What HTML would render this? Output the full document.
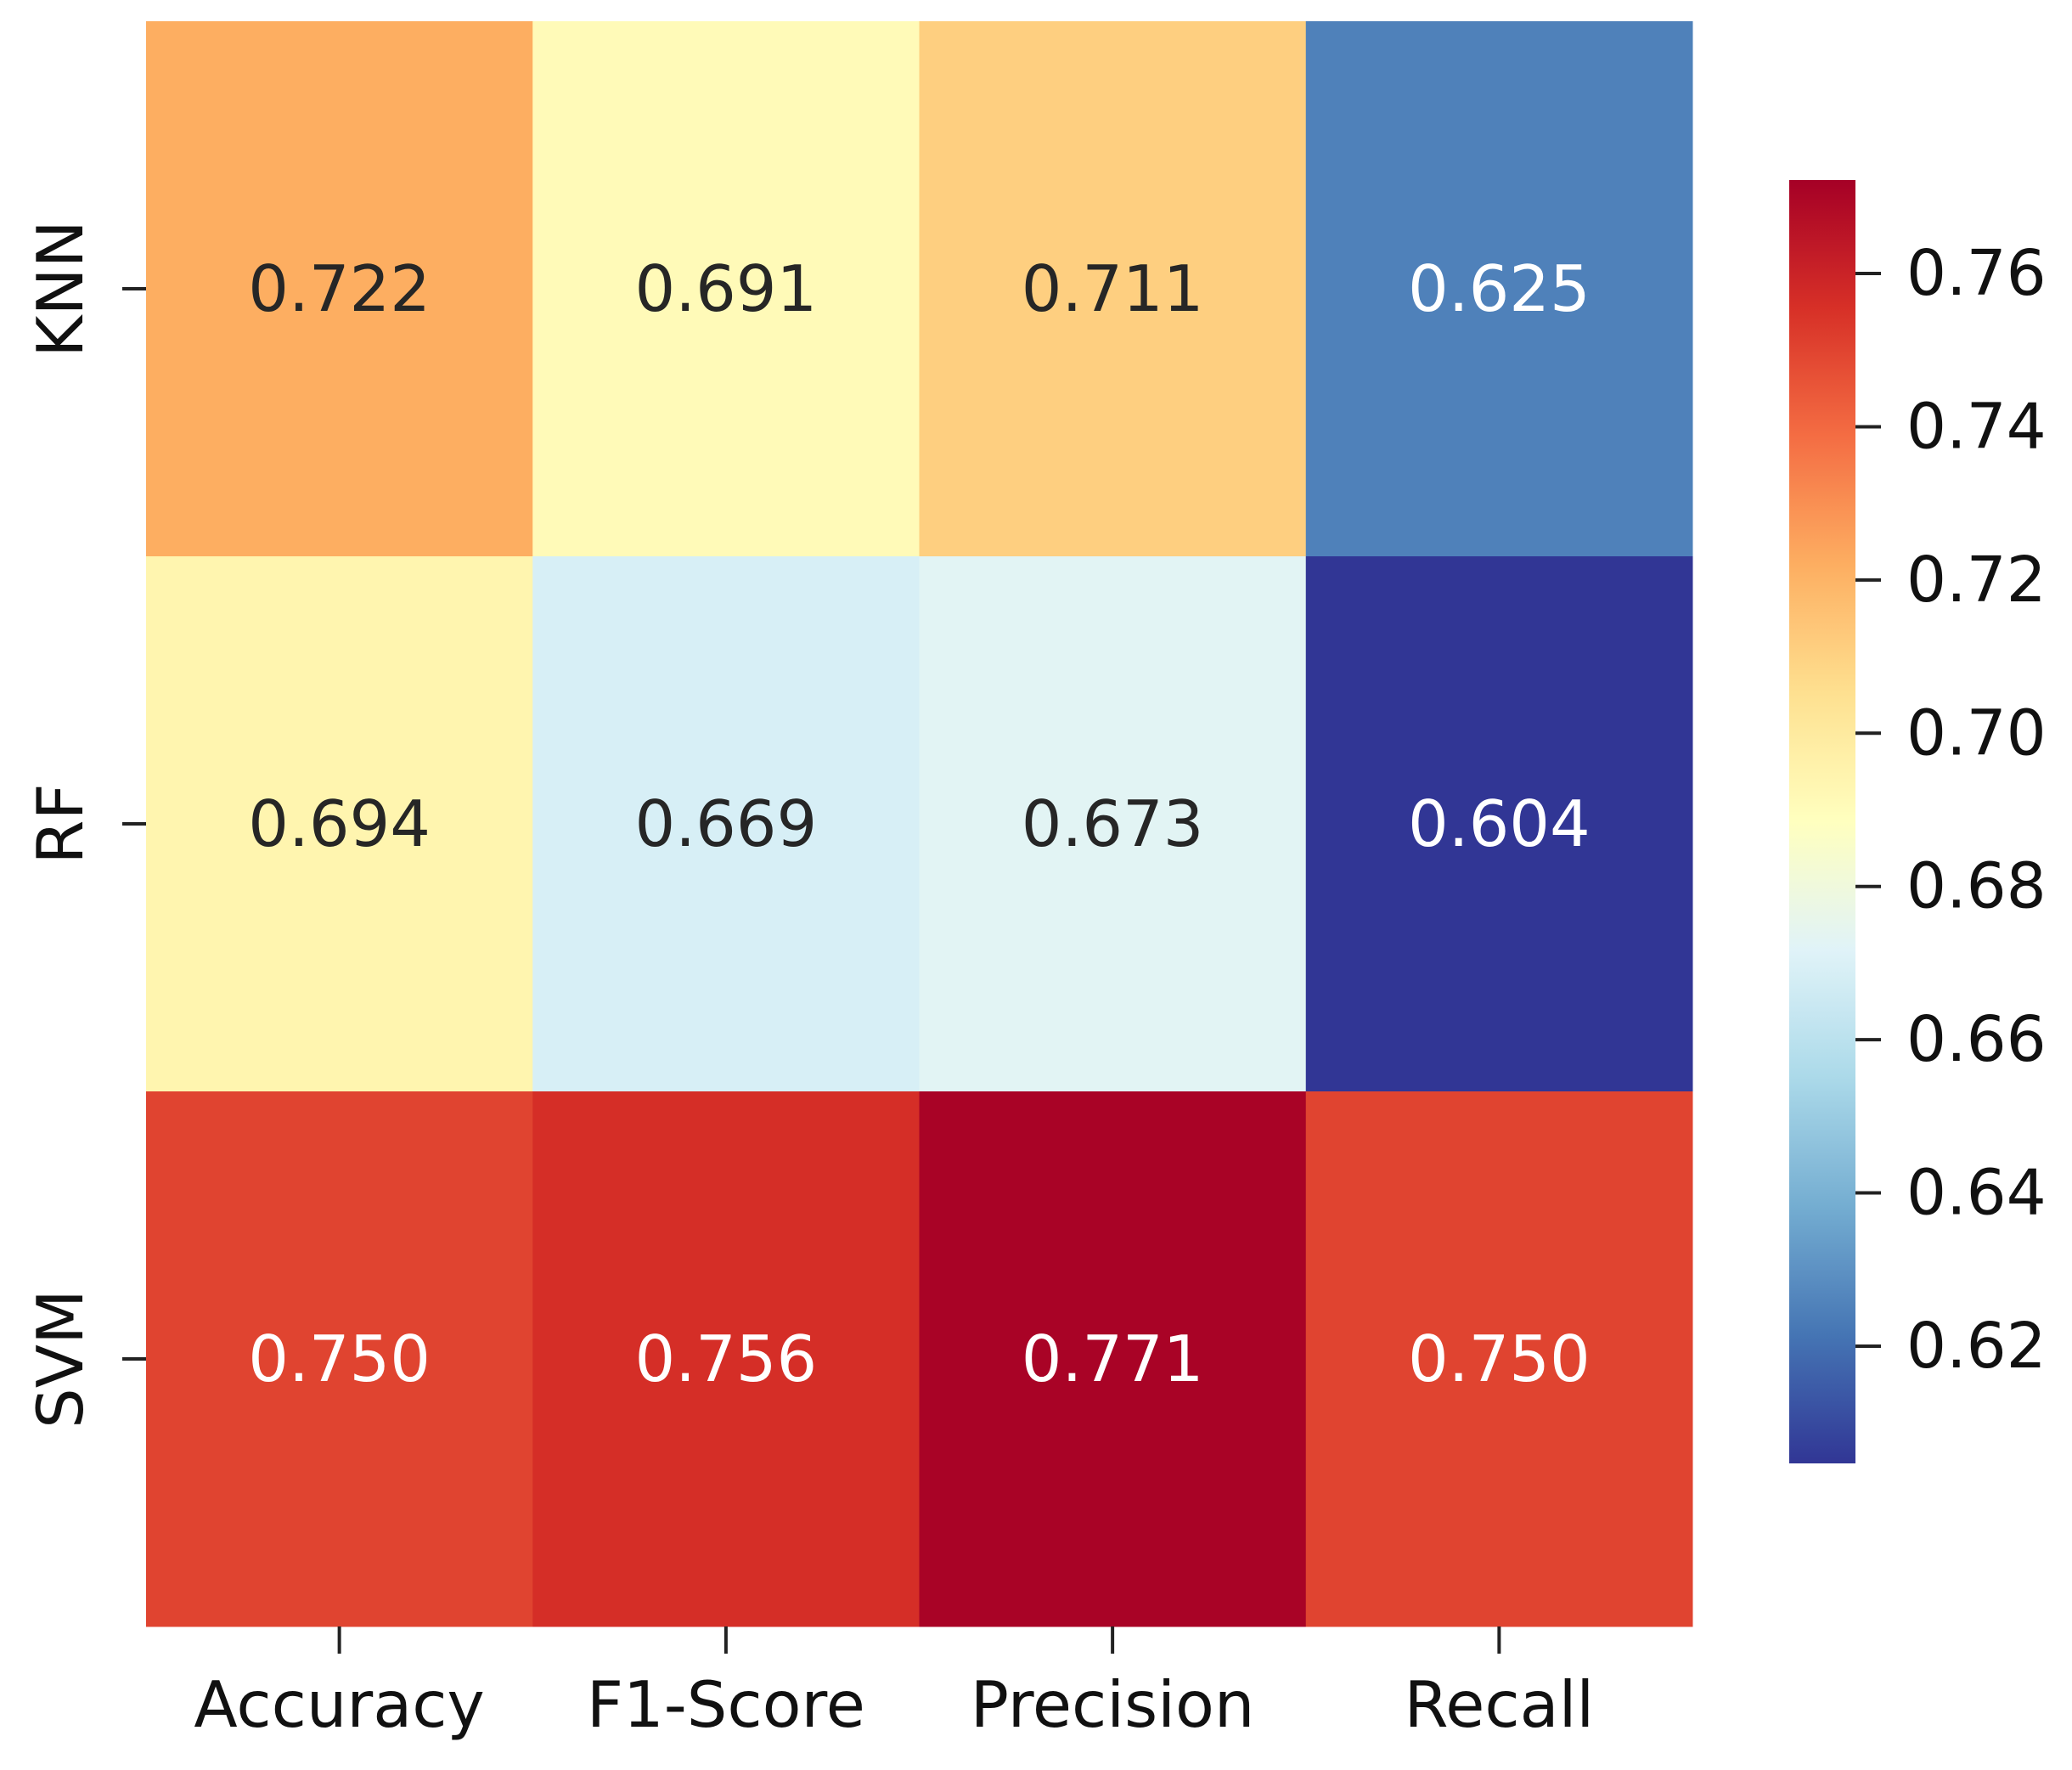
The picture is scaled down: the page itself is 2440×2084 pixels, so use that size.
<!DOCTYPE html>
<html><head><meta charset="utf-8"><style>
html,body{margin:0;padding:0;background:#fff;}
svg text{font-family:"DejaVu Sans","Liberation Sans",sans-serif;}
</style></head><body>
<svg id="chart" width="2440" height="2079" viewBox="0 0 2440 2079" xmlns="http://www.w3.org/2000/svg">
<defs><linearGradient id="cbgrad" x1="0" y1="1" x2="0" y2="0"></linearGradient></defs>
<g id="cells"></g>
<g id="xaxis"></g>
<g id="yaxis"></g>
<g id="cbar"></g>
</svg>
<script>
const rows = ["KNN","RF","SVM"];
const cols = ["Accuracy","F1-Score","Precision","Recall"];
const knnValues = [0.722,0.691,0.711,0.625];
const rfValues = [0.694,0.669,0.673,0.604];
const svmValues = [0.750,0.756,0.771,0.750];
const cbTicks = [0.62,0.64,0.66,0.68,0.70,0.72,0.74,0.76];
const vmin = 0.6047, vmax = 0.7722;

const NS="http://www.w3.org/2000/svg";
const L=172,R=1993,T=25,B=1915;
const cw=(R-L)/cols.length, rh=(B-T)/rows.length;
const CBX=2107,CBW=78,CBT=212,CBB=1723;
const FS=75;
const stops=["#313695","#4575b4","#74add1","#abd9e9","#e0f3f8","#ffffbf","#fee090","#fdae61","#f46d43","#d73027","#a50026"];
function hex(h){return [1,3,5].map(i=>parseInt(h.substr(i,2),16));}
function cmap(t){t=Math.max(0,Math.min(1,t));const p=t*(stops.length-1);const i=Math.min(stops.length-2,Math.floor(p));const f=p-i;const a=hex(stops[i]),b=hex(stops[i+1]);return a.map((v,k)=>Math.round(v+(b[k]-v)*f));}
function norm(v){return (v-vmin)/(vmax-vmin);}
function xPos(j){return L+cw*(j+0.5);}
function yPos(i){return T+rh*(i+0.5);}
function cbY(v){return CBB-(v-vmin)/(vmax-vmin)*(CBB-CBT);}
function mk(tag,attrs,parent){const e=document.createElementNS(NS,tag);for(const k in attrs)e.setAttribute(k,attrs[k]);parent.appendChild(e);return e;}
const data=[knnValues,rfValues,svmValues];
const cells=document.getElementById('cells');
data.forEach((rowv,i)=>rowv.forEach((v,j)=>{
  const c=cmap(norm(v));
  const r=mk('rect',{x:L+cw*j,y:T+rh*i,width:cw+0.5,height:rh+0.5,fill:`rgb(${c})`},cells);
  
  
  const lum=(0.2126*c[0]+0.7152*c[1]+0.0722*c[2])/255;
  const t=mk('text',{x:xPos(j),y:yPos(i),'font-size':FS,'text-anchor':'middle','dominant-baseline':'central',fill:lum>0.55?'#262626':'#ffffff'},cells);
  t.textContent=v.toFixed(3);
  
  
}));
const xa=document.getElementById('xaxis');
cols.forEach((c,j)=>{
  const tk=mk('line',{x1:xPos(j),x2:xPos(j),y1:B,y2:B+32,stroke:'#222','stroke-width':4},xa);
  
  
  const t=mk('text',{x:xPos(j),y:2033,'font-size':FS,'text-anchor':'middle',fill:'#111'},xa);
  t.textContent=c;
  
  
});
const ya=document.getElementById('yaxis');
rows.forEach((r,i)=>{
  const tk=mk('line',{x1:L-28,x2:L,y1:yPos(i),y2:yPos(i),stroke:'#222','stroke-width':4},ya);
  
  
  const t=mk('text',{x:0,y:0,'font-size':FS,'text-anchor':'middle',fill:'#111',transform:`translate(97,${yPos(i)}) rotate(-90)`},ya);
  t.textContent=r;
  
  
});
const g=document.getElementById('cbgrad');
for(let k=0;k<=40;k++){mk('stop',{offset:k/40,'stop-color':`rgb(${cmap(k/40)})`},g);}
const cb=document.getElementById('cbar');
const bar=mk('rect',{x:CBX,y:CBT,width:CBW,height:CBB-CBT,fill:'url(#cbgrad)'},cb);


cbTicks.forEach(v=>{
  const tk=mk('line',{x1:CBX+CBW,x2:CBX+CBW+30,y1:cbY(v),y2:cbY(v),stroke:'#222','stroke-width':4},cb);
  
  
  const t=mk('text',{x:2245,y:cbY(v),'font-size':74,'dominant-baseline':'central',fill:'#111'},cb);
  t.textContent=v.toFixed(2);
  
  
});
</script>
</body></html>
